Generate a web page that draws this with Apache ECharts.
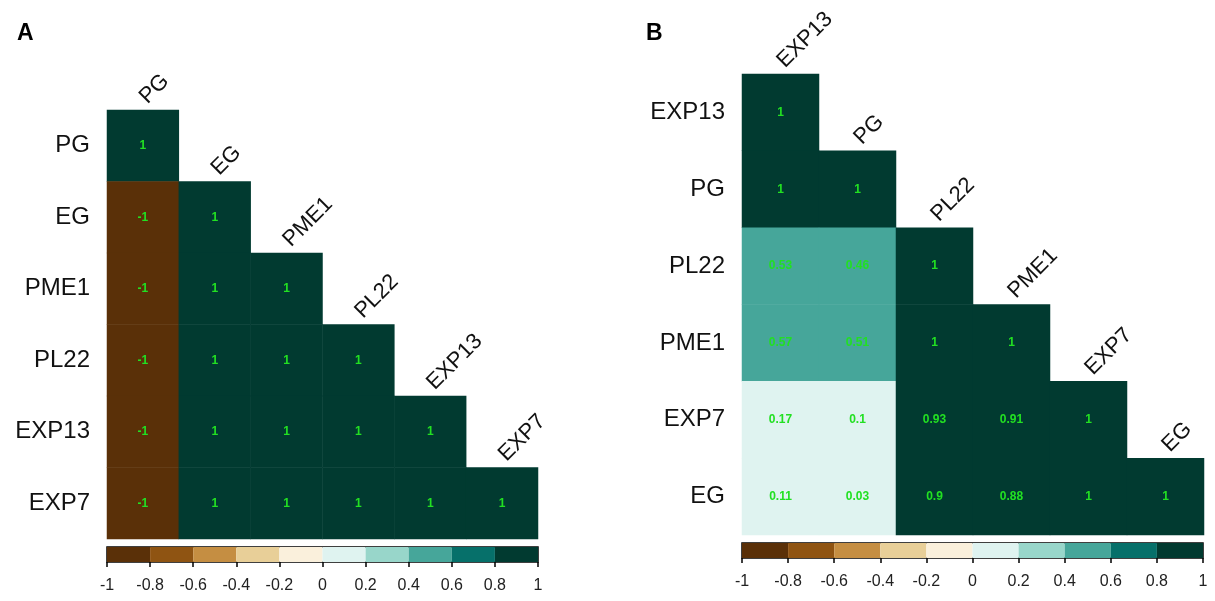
<!DOCTYPE html>
<html>
<head>
<meta charset="utf-8">
<script src="https://cdn.jsdelivr.net/npm/echarts@6/dist/echarts.min.js"></script>
<style>
  html, body { margin: 0; padding: 0; background: #fff; }
  #main { width: 1215px; height: 601px; }
</style>
</head>
<body>
<div id="main"></div>
<script>
// panel A: variable order and lower-triangle correlations (row by row)
var namesA = ['PG', 'EG', 'PME1', 'PL22', 'EXP13', 'EXP7'];
var corrA = [
    [1],
    [-1, 1],
    [-1, 1, 1],
    [-1, 1, 1, 1],
    [-1, 1, 1, 1, 1],
    [-1, 1, 1, 1, 1, 1]
];

// panel B
var namesB = ['EXP13', 'PG', 'PL22', 'PME1', 'EXP7', 'EG'];
var corrB = [
    [1],
    [1, 1],
    [0.53, 0.46, 1],
    [0.57, 0.51, 1, 1],
    [0.17, 0.1, 0.93, 0.91, 1],
    [0.11, 0.03, 0.9, 0.88, 1, 1]
];

// colour scale bins
var binEdges = [-1, -0.8, -0.6, -0.4, -0.2, 0, 0.2, 0.4, 0.6, 0.8, 1];
var binColors = ['#5a3008', '#8f5412', '#c58e42', '#e8cf98', '#faf0dc',
                 '#dff3f0', '#98d6ca', '#46a69a', '#06706a', '#013a30'];

function toCells(m) {
    var out = [];
    m.forEach(function (row, r) {
        row.forEach(function (v, c) { out.push([c, r, v]); });
    });
    return out;
}

var pieces = [];
var bins = [];
for (var i = 0; i < binColors.length; i++) {
    var p = { gte: binEdges[i], color: binColors[i] };
    if (i === binColors.length - 1) p.lte = binEdges[i + 1]; else p.lt = binEdges[i + 1];
    pieces.push(p);
    bins.push([binEdges[i], binEdges[i + 1], i]);
}

var panels = [
    { names: namesA, corr: corrA, left: 107, top: 110, width: 431, height: 429, barTop: 547, barW: 431 },
    { names: namesB, corr: corrB, left: 742, top: 74, width: 462, height: 461, barTop: 543, barW: 461 }
];

var grids = [], xAxes = [], yAxes = [], series = [];
var cellLabel = { show: true, color: '#22e022', fontSize: 12, fontWeight: 'bold', fontFamily: 'Liberation Sans, Arial' };

panels.forEach(function (pn, k) {
    // matrix grid
    grids.push({ left: pn.left, top: pn.top, width: pn.width, height: pn.height });
    xAxes.push({ type: 'category', gridIndex: 2 * k, data: pn.names, show: false });
    yAxes.push({
        type: 'category', gridIndex: 2 * k, data: pn.names, inverse: true,
        axisLine: { show: false }, axisTick: { show: false }, splitLine: { show: false },
        axisLabel: { fontSize: 24, color: '#111', margin: 17, fontFamily: 'Liberation Sans, Arial' }
    });
    // colour bar grid
    grids.push({ left: pn.left, top: pn.barTop, width: pn.barW, height: 15, show: true, borderColor: '#000', borderWidth: 1.5, backgroundColor: 'transparent' });
    xAxes.push({
        type: 'value', gridIndex: 2 * k + 1, min: -1, max: 1, interval: 0.2,
        axisLine: { show: false }, splitLine: { show: false },
        axisTick: { show: true, length: 5, lineStyle: { color: '#000', width: 1.5 } },
        axisLabel: { fontSize: 16, color: '#222', margin: 16, fontFamily: 'Liberation Sans, Arial' }
    });
    yAxes.push({ type: 'value', gridIndex: 2 * k + 1, min: 0, max: 1, show: false });

    series.push({
        type: 'heatmap', xAxisIndex: 2 * k, yAxisIndex: 2 * k,
        data: toCells(pn.corr), label: cellLabel,
        itemStyle: { borderWidth: 0 }, emphasis: { disabled: true }
    });
    // diagonal names above each diagonal cell
    series.push({
        type: 'custom', xAxisIndex: 2 * k, yAxisIndex: 2 * k, silent: true,
        data: pn.names.map(function (n, i) { return [i, i, n]; }),
        renderItem: function (params, api) {
            var c = api.coord([api.value(0), api.value(1)]);
            var s = api.size([1, 1]);
            return {
                type: 'text',
                x: c[0] + 8, y: c[1] - s[1] / 2 - 2,
                rotation: Math.PI / 4,
                style: {
                    text: pn.names[api.value(0)],
                    fill: '#111',
                    font: '22px "Liberation Sans", Arial',
                    align: 'left', verticalAlign: 'bottom',
                    textAlign: 'left', textVerticalAlign: 'bottom'
                }
            };
        }
    });
    // colour bar bins
    series.push({
        type: 'custom', xAxisIndex: 2 * k + 1, yAxisIndex: 2 * k + 1, silent: true,
        data: bins,
        renderItem: function (params, api) {
            var p0 = api.coord([api.value(0), 1]);
            var p1 = api.coord([api.value(1), 0]);
            return {
                type: 'rect',
                shape: { x: p0[0], y: p0[1], width: p1[0] - p0[0], height: p1[1] - p0[1] },
                style: { fill: binColors[api.value(2)] }
            };
        }
    });
});

var chart = echarts.init(document.getElementById('main'));
chart.setOption({
    backgroundColor: '#fff',
    animation: false,
    title: [
        { text: 'A', left: 12, top: 17, textStyle: { fontSize: 23, fontWeight: 'bold', color: '#000', fontFamily: 'Liberation Sans, Arial' } },
        { text: 'B', left: 641, top: 17, textStyle: { fontSize: 23, fontWeight: 'bold', color: '#000', fontFamily: 'Liberation Sans, Arial' } }
    ],
    visualMap: { type: 'piecewise', show: false, seriesIndex: [0, 3], dimension: 2, pieces: pieces },
    grid: grids,
    xAxis: xAxes,
    yAxis: yAxes,
    series: series
});
</script>
</body>
</html>
